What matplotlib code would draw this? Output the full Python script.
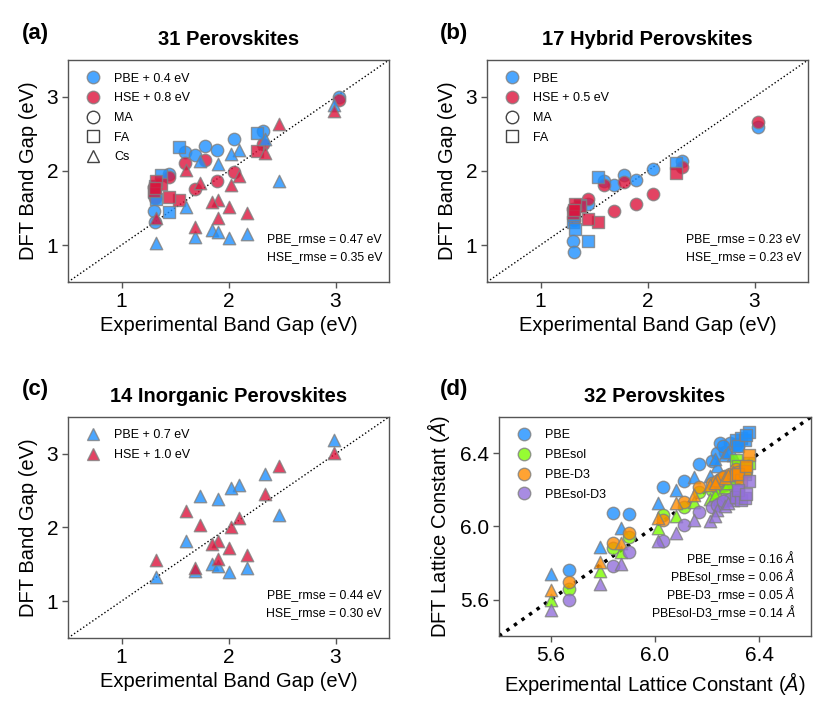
import matplotlib
matplotlib.use('Agg')
import matplotlib.pyplot as plt
from matplotlib.lines import Line2D

plt.rcParams['font.family'] = ['Liberation Sans', 'DejaVu Sans']
plt.rcParams['mathtext.fontset'] = 'custom'
plt.rcParams['mathtext.rm'] = 'Liberation Sans'
plt.rcParams['mathtext.it'] = 'Liberation Sans:italic'
plt.rcParams['mathtext.bf'] = 'Liberation Sans:bold'

# ---------------- data: band gaps (eV) ----------------
# hybrid perovskites, MA cation
ma_exp = [3.03, 2.32, 2.05, 1.78, 1.89, 1.59, 1.69, 1.44, 1.30, 1.31]
ma_pbe = [2.60, 2.14, 2.03, 1.94, 1.88, 1.86, 1.81, 1.56, 1.06, 0.91]
ma_hse = [2.16, 1.56, 1.19, 1.35, 1.06, 1.31, 0.96, 1.12, 0.99, 0.84]
# hybrid perovskites, FA cation
fa_exp = [2.27, 1.54, 1.44, 1.37, 1.30, 1.32, 1.31]
fa_pbe = [2.11, 1.92, 1.05, 1.54, 1.31, 1.22, 1.40]
fa_hse = [1.47, 0.81, 0.85, 1.03, 0.93, 1.06, 0.97]
# inorganic perovskites, Cs cation
cs_exp = [2.99, 2.34, 2.47, 2.10, 2.02, 1.73, 1.90, 1.85, 1.90, 1.60, 1.69, 2.00, 2.17, 1.32]
cs_pbe = [2.49, 2.03, 1.47, 1.88, 1.83, 1.73, 1.69, 0.80, 0.78, 1.11, 0.71, 0.70, 0.75, 0.63]
cs_hse = [2.01, 1.45, 1.83, 1.13, 1.01, 1.04, 0.81, 0.78, 0.57, 1.22, 0.45, 0.72, 0.63, 0.56]

# scissor shifts shown in the legends (eV)
shift_a = {'PBE': 0.4, 'HSE': 0.8}
shift_b = {'PBE': 0.0, 'HSE': 0.5}
shift_c = {'PBE': 0.7, 'HSE': 1.0}

rmse_a = ['PBE_rmse = 0.47 eV', 'HSE_rmse = 0.35 eV']
rmse_b = ['PBE_rmse = 0.23 eV', 'HSE_rmse = 0.23 eV']
rmse_c = ['PBE_rmse = 0.44 eV', 'HSE_rmse = 0.30 eV']

# ---------------- data: lattice constants (Angstrom) ----------------
lat_shape = ['^', 'o', '^', 'o', '^', 'o', '^', 'o', '^', 'o', '^', 'o',
             '^', 'o', '^', 'o', 'o', '^', 'o', '^', 'o', 'o', 'o', 'o', '^', '^',
             's', 's', 's', 's', 's', 's']
lat_exp = [5.60, 5.67, 5.79, 5.84, 5.87, 5.90, 6.01, 6.03, 6.08, 6.11, 6.15, 6.17,
           6.21, 6.22, 6.24, 6.25, 6.27, 6.27, 6.29, 6.30, 6.31, 6.32, 6.24, 6.26, 6.28, 6.23,
           6.31, 6.33, 6.345, 6.36, 6.32, 6.35]
lat_pbe = [5.74, 5.76, 5.885, 6.073, 5.99, 6.067, 6.13, 6.218, 6.20, 6.25, 6.273, 6.342,
           6.276, 6.36, 6.33, 6.46, 6.41, 6.39, 6.46, 6.39, 6.45, 6.44, 6.40, 6.44, 6.41, 6.37,
           6.476, 6.487, 6.476, 6.518, 6.44, 6.50]
lat_pbesol = [5.60, 5.66, 5.755, 5.882, 5.858, 5.945, 5.99, 6.064, 6.055, 6.109, 6.136, 6.19,
              6.15, 6.20, 6.19, 6.215, 6.227, 6.218, 6.245, 6.255, 6.27, 6.273, 6.21, 6.23, 6.24, 6.17,
              6.367, 6.30, 6.29, 6.35, 6.33, 6.32]
lat_pbed3 = [5.65, 5.695, 5.804, 5.909, 5.909, 5.964, 6.045, 6.036, 6.127, 6.136, 6.173, 6.218,
             6.227, 6.236, 6.255, 6.26, 6.276, 6.264, 6.287, 6.30, 6.313, 6.30, 6.25, 6.27, 6.28, 6.24,
             6.28, 6.255, 6.304, 6.391, 6.29, 6.33]
lat_pbesold3 = [5.545, 5.596, 5.685, 5.782, 5.795, 5.858, 5.918, 5.918, 5.964, 6.009, 6.036, 6.082,
                6.03, 6.105, 6.09, 6.127, 6.145, 6.11, 6.149, 6.145, 6.18, 6.20, 6.12, 6.14, 6.13, 6.06,
                6.164, 6.145, 6.158, 6.249, 6.20, 6.18]
lat_names = ['PBE', 'PBEsol', 'PBE-D3', 'PBEsol-D3']
rmse_d = ['PBE_rmse = 0.16 $\\mathit{\u00c5}$', 'PBEsol_rmse = 0.06 $\\mathit{\u00c5}$',
          'PBE-D3_rmse = 0.05 $\\mathit{\u00c5}$', 'PBEsol-D3_rmse = 0.14 $\\mathit{\u00c5}$']

# ---------------- style ----------------
BLUE = '#1E90FF'
RED = '#DC143C'
LAT_COLORS = ['#1E90FF', '#7CFC00', '#FF8C00', '#9370DB']
ALPHA = 0.8
EDGE = '#808080'
MS = 80
SPINE = '#555555'
TICK_FS = 15
LABEL_FS = 14.5
TITLE_FS = 14.5
LEG_FS = 9
RMSE_FS = 8.8

fig = plt.figure(figsize=(8.3, 7.11), dpi=100)
W, H = 830.0, 711.0


def axes_px(left, top, right, bottom):
    return fig.add_axes([left / W, 1 - bottom / H, (right - left) / W, (bottom - top) / H])


def style_axes(ax):
    for sp in ax.spines.values():
        sp.set_color(SPINE)
        sp.set_linewidth(1.0)
    ax.tick_params(direction='out', length=4, width=1, color=SPINE, labelsize=TICK_FS, pad=3)


def sc(ax, x, y, marker, color, shift=0.0, s=MS):
    ax.scatter(x, [v + shift for v in y], marker=marker, s=s, c=color, alpha=ALPHA,
               edgecolors=EDGE, linewidths=1.0, zorder=3)


def rmse_text(ax, lines, x, y0, dy):
    for i, t in enumerate(lines):
        ax.text(x, y0 - i * dy, t, transform=ax.transAxes, ha='right', va='baseline',
                fontsize=RMSE_FS)


def gap_panel(ax, groups, shifts, legend_handles, rmse, title):
    ax.plot([0.5, 3.5], [0.5, 3.5], ls=':', color='black', lw=1.0, zorder=2)
    for exp, pbe, hse, m in groups:
        sc(ax, exp, pbe, m, BLUE, shifts['PBE'])
        sc(ax, exp, hse, m, RED, shifts['HSE'])
    ax.set_xlim(0.5, 3.5)
    ax.set_ylim(0.5, 3.5)
    ax.set_xticks([1, 2, 3])
    ax.set_yticks([1, 2, 3])
    ax.set_xlabel('Experimental Band Gap (eV)', fontsize=LABEL_FS, labelpad=4)
    ax.set_ylabel('DFT Band Gap (eV)', fontsize=LABEL_FS, labelpad=6)
    ax.set_title(title, fontsize=TITLE_FS, fontweight='bold', pad=11)
    ax.legend(handles=legend_handles, loc='upper left', frameon=False, fontsize=LEG_FS,
              handletextpad=0.7, labelspacing=0.62, borderaxespad=0.6)
    rmse_text(ax, rmse, 0.978, 0.182, 0.082)
    style_axes(ax)


def mk(marker, face, label):
    return Line2D([], [], ls='none', marker=marker, markersize=9, markerfacecolor=face,
                  markeredgecolor=EDGE if face != 'none' else '#444444', markeredgewidth=1.0,
                  alpha=ALPHA if face != 'none' else 1.0, label=label)


def fmt_shift(v):
    return '' if v == 0 else ' + %.1f eV' % v


# (a)
ax_a = axes_px(68, 60, 389, 282)
gap_panel(ax_a,
          [(ma_exp, ma_pbe, ma_hse, 'o'), (fa_exp, fa_pbe, fa_hse, 's'), (cs_exp, cs_pbe, cs_hse, '^')],
          shift_a,
          [mk('o', BLUE, 'PBE' + fmt_shift(shift_a['PBE'])), mk('o', RED, 'HSE' + fmt_shift(shift_a['HSE'])),
           mk('o', 'none', 'MA'), mk('s', 'none', 'FA'), mk('^', 'none', 'Cs')],
          rmse_a, '31 Perovskites')

# (b)
ax_b = axes_px(487, 60, 808, 282)
gap_panel(ax_b,
          [(ma_exp, ma_pbe, ma_hse, 'o'), (fa_exp, fa_pbe, fa_hse, 's')],
          shift_b,
          [mk('o', BLUE, 'PBE' + fmt_shift(shift_b['PBE'])), mk('o', RED, 'HSE' + fmt_shift(shift_b['HSE'])),
           mk('o', 'none', 'MA'), mk('s', 'none', 'FA')],
          rmse_b, '17 Hybrid Perovskites')

# (c)
ax_c = axes_px(68, 417, 389, 638)
gap_panel(ax_c,
          [(cs_exp, cs_pbe, cs_hse, '^')],
          shift_c,
          [mk('^', BLUE, 'PBE' + fmt_shift(shift_c['PBE'])), mk('^', RED, 'HSE' + fmt_shift(shift_c['HSE']))],
          rmse_c, '14 Inorganic Perovskites')

# (d)
ax_d = axes_px(499, 417, 811, 636)
ax_d.plot([5.4, 6.6], [5.4, 6.6], ls=':', color='black', lw=2.5, zorder=2)
for vals, col in zip([lat_pbe, lat_pbesol, lat_pbed3, lat_pbesold3], LAT_COLORS):
    for m in ['o', '^', 's']:
        xs = [x for x, sh in zip(lat_exp, lat_shape) if sh == m]
        ys = [y for y, sh in zip(vals, lat_shape) if sh == m]
        sc(ax_d, xs, ys, m, col)
ax_d.set_xlim(5.4, 6.6)
ax_d.set_ylim(5.4, 6.6)
ax_d.set_xticks([5.6, 6.0, 6.4])
ax_d.set_yticks([5.6, 6.0, 6.4])
ax_d.set_xticklabels(['5.6', '6.0', '6.4'])
ax_d.set_yticklabels(['5.6', '6.0', '6.4'])
ax_d.set_xlabel('Experimental Lattice Constant ($\\mathit{\u00c5}$)', fontsize=LABEL_FS, labelpad=4)
ax_d.set_ylabel('DFT Lattice Constant ($\\mathit{\u00c5}$)', fontsize=LABEL_FS, labelpad=6)
ax_d.set_title('32 Perovskites', fontsize=TITLE_FS, fontweight='bold', pad=11)
ax_d.legend(handles=[mk('o', c, n) for c, n in zip(LAT_COLORS, lat_names)], loc='upper left',
            frameon=False, fontsize=LEG_FS, handletextpad=0.7, labelspacing=0.62, borderaxespad=0.6)
rmse_text(ax_d, rmse_d, 0.95, 0.333, 0.082)
style_axes(ax_d)

# panel letters
for lab, x, y in [('(a)', 22, 33), ('(b)', 440, 33), ('(c)', 22, 390), ('(d)', 440, 390)]:
    fig.text(x / W, 1 - y / H, lab, fontsize=16, fontweight='bold', ha='left', va='center')

fig.savefig('out.png', dpi=100)
